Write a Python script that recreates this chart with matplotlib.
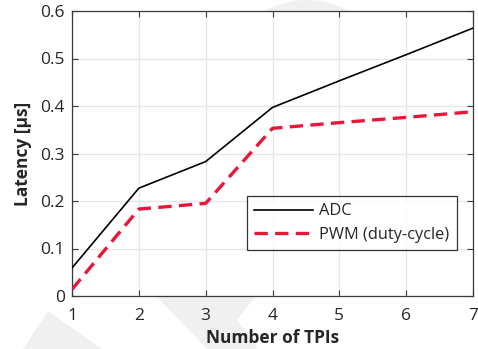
import matplotlib
matplotlib.use("Agg")
import matplotlib.pyplot as plt
from matplotlib.patches import Polygon, Ellipse

plt.rcParams['font.family'] = ['Open Sans', 'DejaVu Sans']

tpis = [1, 2, 3, 4, 5, 6, 7]
adc = [0.059, 0.227, 0.283, 0.397, 0.453, 0.508, 0.564]
pwm = [0.014, 0.183, 0.195, 0.353, 0.365, 0.376, 0.388]
x_ticks = [1, 2, 3, 4, 5, 6, 7]
y_ticks = [0, 0.1, 0.2, 0.3, 0.4, 0.5, 0.6]
y_tick_labels = ['0', '0.1', '0.2', '0.3', '0.4', '0.5', '0.6']

W, H = 478, 349
fig = plt.figure(figsize=(W / 100, H / 100), dpi=100)

# faint background logo shapes (pixel coordinates, origin top-left)
wm = '#f0f0f0'
def px(pts):
    return [(x / W, 1 - y / H) for x, y in pts]
for poly in ([(23, 349), (48, 311), (102, 349)],
             [(157, 297), (255, 297), (237, 320), (258, 349), (207, 349)]):
    fig.patches.append(Polygon(px(poly), closed=True, transform=fig.transFigure,
                               facecolor=wm, edgecolor='none', zorder=-5))
fig.patches.append(Ellipse((307 / W, 1 - 85 / H), 170 / W, 170 / H,
                           transform=fig.transFigure, facecolor=wm,
                           edgecolor='none', zorder=-5))

ax = fig.add_axes([72 / W, 1 - 296 / H, (473 - 72) / W, (296 - 11) / H])
ax.set_facecolor('white')

ax.plot(tpis, adc, color='black', lw=1.2, label='ADC', zorder=3)
ax.plot(tpis, pwm, color='#e8173a', lw=2.4, dashes=(4.0, 2.2),
        label='PWM (duty-cycle)', zorder=3)

ax.set_xlim(1, 7)
ax.set_ylim(0, 0.6)
ax.set_xticks(x_ticks)
ax.set_yticks(y_ticks)
ax.set_yticklabels(y_tick_labels)
ax.grid(True, color='#e6e6e6', lw=0.9)
ax.set_axisbelow(True)

for s in ax.spines.values():
    s.set_color('#3a3a3a')
    s.set_linewidth(0.9)
ax.tick_params(direction='in', top=True, right=True, length=4, width=0.8,
               color='#3a3a3a', labelsize=12.5, labelcolor='#262626', pad=5)
ax.tick_params(axis='x', pad=9)

ax.set_xlabel('Number of TPIs', fontsize=12.5, fontweight='bold',
              color='#262626', labelpad=3)
ax.set_ylabel('Latency [μs]', fontsize=12.5, fontweight='bold',
              color='#262626', labelpad=6)

leg = ax.legend(loc='upper left', bbox_to_anchor=((247 - 72) / (473 - 72), 1 - (196 - 11) / (296 - 11)),
                fontsize=11.8, frameon=True, fancybox=False, handlelength=3.6,
                borderpad=0.45, labelspacing=0.45, handletextpad=0.35,
                borderaxespad=0)
leg.get_frame().set_edgecolor('black')
leg.get_frame().set_linewidth(0.9)
for t in leg.get_texts():
    t.set_color('#262626')

fig.savefig('out.png', dpi=100)
